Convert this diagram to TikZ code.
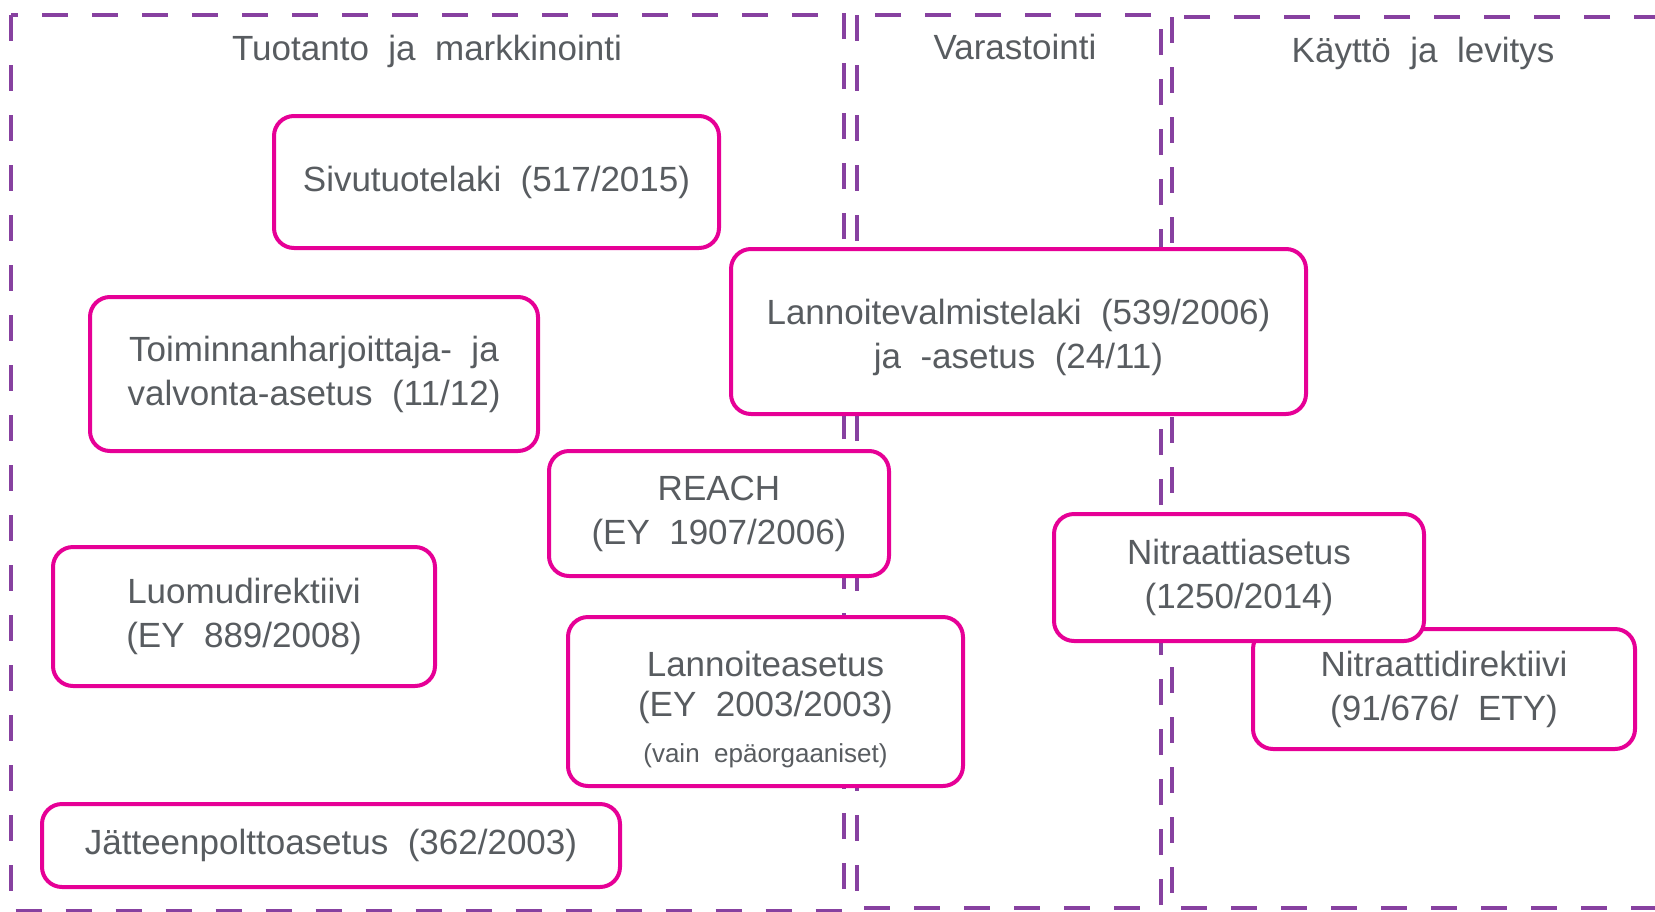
\documentclass[tikz,border=0pt]{standalone}
\usepackage{fontspec}
\setmainfont{Liberation Sans}[WordSpace=2]
\usetikzlibrary{positioning}
\definecolor{lawpink}{RGB}{230,0,150}
\definecolor{zonepurple}{RGB}{135,65,160}
\definecolor{labelgray}{RGB}{88,92,96}
\tikzset{
  lawbox/.style={draw=lawpink, line width=2pt, rounded corners=10pt, fill=white,
    align=center, text=labelgray, inner sep=0pt, font=\fontsize{17.5}{22}\selectfont},
  zone/.style={draw=zonepurple, line width=2pt, dash pattern=on 13pt off 12pt},
  zonetitle/.style={text=labelgray, font=\fontsize{17.5}{22}\selectfont}
}

\begin{document}
\begin{tikzpicture}[x=0.5pt, y=-0.5pt]
\clip (0,0) rectangle (1655,911);
% vaiheet
\draw[zone] (11,15) rectangle (844,910.5);
\draw[zone] (857,15) rectangle (1161,908);
\draw[zone] (1172,17) rectangle (1700,908);
\node[zonetitle] (tuot) at (427,51) {Tuotanto ja markkinointi};
\node[zonetitle] (vara) at (1015,47) {Varastointi};
\node[zonetitle] (kayt) at (1423,53) {Käyttö ja levitys};
% säädökset
\node[lawbox, minimum width=222.5pt, minimum height=66pt] (sivu) at (496.5,182)
  {Sivutuotelaki (517/2015)};
\node[lawbox, minimum width=224pt, minimum height=77pt] (toimval) at (314,374)
  {Toiminnanharjoittaja- ja\\valvonta-asetus (11/12)};
\node[lawbox, minimum width=287.5pt, minimum height=82.5pt] (lannvalm) at (1018.5,331.5)
  {\rule{0pt}{19pt}Lannoitevalmistelaki (539/2006)\\ja -asetus (24/11)};
\node[lawbox, minimum width=170pt, minimum height=62.5pt] (reach) at (719,513.5)
  {REACH\\(EY 1907/2006)};
\node[lawbox, minimum width=191pt, minimum height=69.5pt] (luomu) at (244,616.5)
  {Luomudirektiivi\\(EY 889/2008)};
\node[lawbox, minimum width=197.5pt, minimum height=84.5pt] (lannas) at (765.5,701.5)
  {\rule{0pt}{21pt}Lannoiteasetus\\[-2pt](EY 2003/2003)\\[1pt]{\fontsize{13}{17}\selectfont(vain epäorgaaniset)}};
\node[lawbox, minimum width=289pt, minimum height=41.5pt] (jate) at (331,845.5)
  {Jätteenpolttoasetus (362/2003)};
\node[lawbox, minimum width=191pt, minimum height=60pt] (nitrdir) at (1444,689)
  {Nitraattidirektiivi\\(91/676/ ETY)};
\node[lawbox, minimum width=185pt, minimum height=63.5pt] (nitras) at (1239,577.5)
  {Nitraattiasetus\\(1250/2014)};
\end{tikzpicture}
\end{document}
